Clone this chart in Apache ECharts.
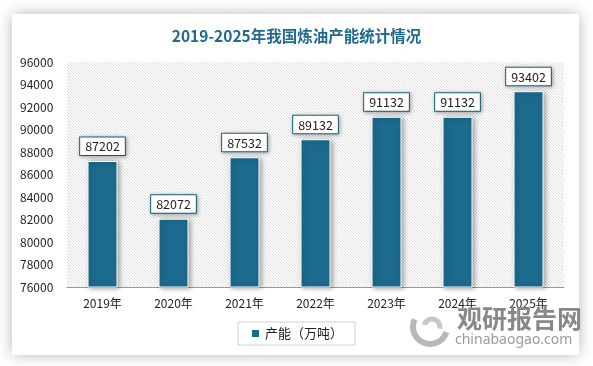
<!DOCTYPE html>
<html><head><meta charset="utf-8">
<script src="https://cdn.jsdelivr.net/npm/echarts@6/dist/echarts.min.js"></script>
<style>html,body{margin:0;padding:0;background:#fff}#c{width:593px;height:366px}</style>
</head><body><div id="c"></div>
<script>
const categories = ['2019年','2020年','2021年','2022年','2023年','2024年','2025年'];
const capacity = [87202, 82072, 87532, 89132, 91132, 91132, 93402];
const seriesName = '产能（万吨）';
const titleText = '2019-2025年我国炼油产能统计情况';

// hatch pattern
const tile = document.createElement('canvas');
tile.width = 3; tile.height = 3;
const tctx = tile.getContext('2d');
tctx.fillStyle = '#ffffff'; tctx.fillRect(0,0,3,3);
tctx.fillStyle = '#dcdcdc';
for (let i = 0; i < 3; i++) tctx.fillRect(i, i, 1, 1);

const font = '"Noto Sans CJK SC", "Noto Sans", sans-serif';
const chart = echarts.init(document.getElementById('c'), null, {renderer: 'canvas'});
chart.setOption({
  backgroundColor: '#ffffff',
  animation: false,
  title: {
    text: titleText, left: 'center', top: 23,
    textStyle: {color: '#1f6a8e', fontSize: 15.5, fontWeight: 'bold', fontFamily: font}
  },
  graphic: [
    {type: 'rect', z: -10, shape: {x: 12, y: 14, width: 567, height: 341},
     style: {fill: '#fff', shadowBlur: 14, shadowColor: 'rgba(0,0,0,0.28)', shadowOffsetX: 0, shadowOffsetY: 0}},
    {type: 'arc', z: 1, shape: {cx: 430, cy: 327, r: 17, startAngle: 0.3, endAngle: 3.6},
     style: {stroke: '#b8b8b8', lineWidth: 6, fill: null}},
    {type: 'arc', z: 1, shape: {cx: 432, cy: 327, r: 8, startAngle: 3.4, endAngle: 6.5},
     style: {stroke: '#c8c8c8', lineWidth: 5, fill: null}},
    {type: 'text', z: 1, left: 457, top: 306,
     style: {text: '观研报告网', fill: '#888888', font: 'bold 25px "Noto Sans CJK SC", sans-serif'}},
    {type: 'text', z: 1, left: 455, top: 333,
     style: {text: 'chinabaogao.com', fill: '#9a9a9a', font: '14px "Noto Sans", sans-serif'}}
  ],
  legend: {
    left: 238, top: 322, padding: [5, 12, 5, 12],
    borderColor: '#d0d0d0', borderWidth: 1,
    itemWidth: 9, itemHeight: 9, icon: 'rect',
    textStyle: {fontSize: 13, color: '#222', fontFamily: font},
    data: [seriesName]
  },
  grid: {
    left: 67, right: 29, top: 62, bottom: 79, show: true, borderWidth: 0,
    backgroundColor: {image: tile, repeat: 'repeat'}
  },
  xAxis: {
    type: 'category', data: categories,
    axisLine: {lineStyle: {color: '#999', width: 1}},
    axisTick: {show: false},
    axisLabel: {color: '#222', fontSize: 12, margin: 10, fontFamily: font}
  },
  yAxis: {
    type: 'value', min: 76000, max: 96000, interval: 2000,
    axisLine: {show: false}, axisTick: {show: false}, splitLine: {show: false},
    axisLabel: {color: '#222', fontSize: 12, align: 'left', margin: 47, fontFamily: font,
      formatter: v => String(v)}
  },
  series: [{
    name: seriesName, type: 'bar', data: capacity, barWidth: 30,
    itemStyle: {color: '#1c6a8e', borderColor: '#fff', borderWidth: 1,
      shadowBlur: 5, shadowColor: 'rgba(0,0,0,0.35)', shadowOffsetX: 2, shadowOffsetY: 1},
    label: {
      show: true, position: 'top', distance: 6,
      color: '#222', fontSize: 12.5, fontFamily: font,
      backgroundColor: '#fff', borderColor: '#1c6a8e', borderWidth: 1,
      padding: [3, 5, 2, 5],
      shadowBlur: 4, shadowColor: 'rgba(0,0,0,0.3)', shadowOffsetX: 1, shadowOffsetY: 1
    }
  }]
});
</script></body></html>
